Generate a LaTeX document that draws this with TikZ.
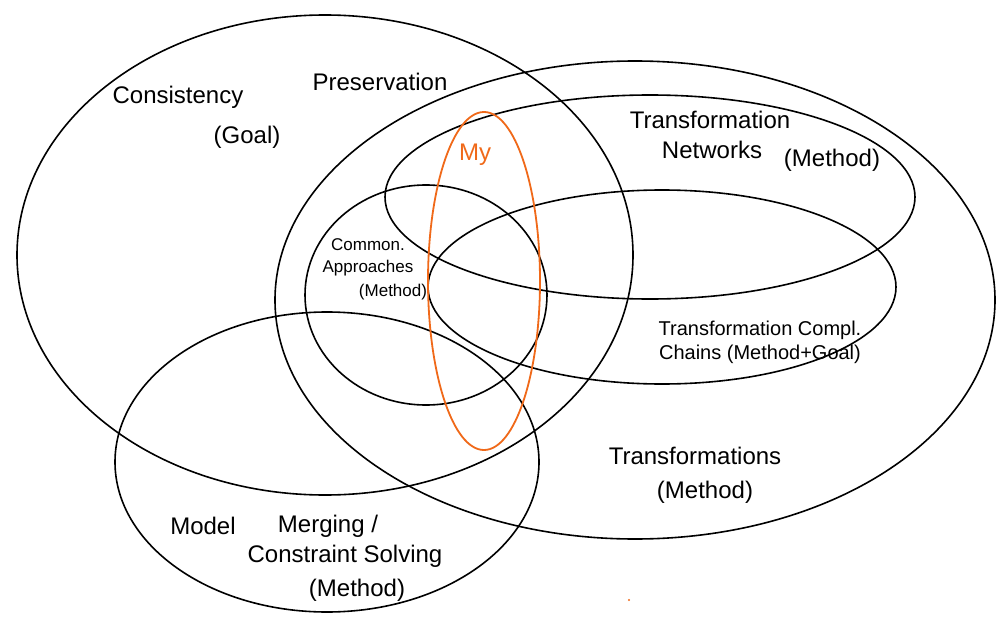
\documentclass[tikz,border=0pt]{standalone}
\usepackage{fontspec}
\setmainfont{Liberation Sans}
\definecolor{myorange}{RGB}{240,105,25}
\begin{document}
\begin{tikzpicture}[x=1pt,y=-1pt,
  set/.style={draw=black,line width=1.6pt},
  lab/.style={font=\fontsize{24}{28}\selectfont,align=center,inner sep=1pt},
  midlab/.style={font=\fontsize{20}{24}\selectfont,align=center,inner sep=1pt},
  smalllab/.style={font=\fontsize{17}{20}\selectfont,align=center,inner sep=1pt}]
\useasboundingbox[fill=white] (0,0) rectangle (1002,634);
% sets
\draw[set] (325,255) ellipse [x radius=308,y radius=240];
\draw[set] (635,300) ellipse [x radius=360,y radius=239];
\draw[set] (650,197) ellipse [x radius=265,y radius=102];
\draw[set] (662,287) ellipse [x radius=234,y radius=97];
\draw[set] (426,295) ellipse [x radius=121,y radius=110];
\draw[set] (327,462) ellipse [x radius=212,y radius=150];
\draw[draw=myorange,line width=1.8pt] (484,281) ellipse [x radius=56,y radius=169];
% labels
\node[lab] (cp1) at (178,97) {Consistency};
\node[lab] (cp2) at (380,82) {Preservation};
\node[lab] (cp3) at (247,137) {(Goal)};
\node[lab] (tn1) at (710,120) {Transformation};
\node[lab] (tn2) at (712,150) {Networks};
\node[lab] (tn3) at (832,160) {(Method)};
\node[smalllab] (ca1) at (368,245) {Common.};
\node[smalllab] (ca2) at (368,268) {Approaches};
\node[smalllab] (ca3) at (393,292) {(Method)};
\node[midlab] (tc1) at (760,330) {Transformation Compl.};
\node[midlab] (tc2) at (760,354) {Chains (Method+Goal)};
\node[lab] (tr1) at (695,456) {Transformations};
\node[lab] (tr2) at (705,492) {(Method)};
\node[lab] (mm1) at (203,526) {Model};
\node[lab] (mm2) at (328,526) {Merging /};
\node[lab] (mm3) at (345,556) {Constraint Solving};
\node[lab] (mm4) at (357,590) {(Method)};
\node[lab,text=myorange] (my) at (475,155) {My};
\fill[myorange] (629,600) circle (1.2);
\end{tikzpicture}
\end{document}
